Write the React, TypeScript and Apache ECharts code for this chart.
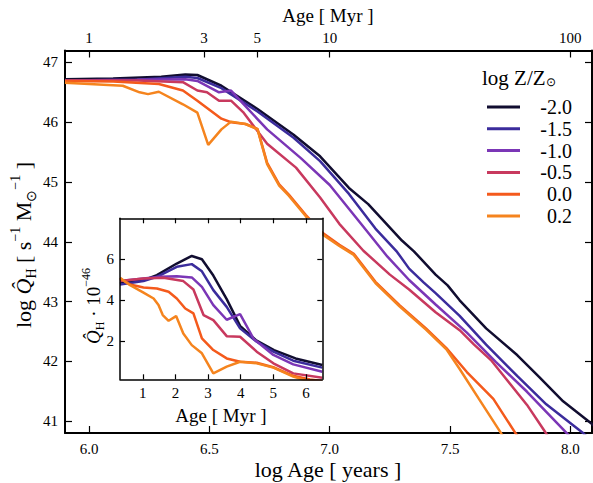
import React, { useEffect, useRef } from 'react';
import * as echarts from 'echarts';

// ---- legend / series names ----
const metallicities = ['-2.0', '-1.5', '-1.0', '-0.5', '0.0', '0.2'];
const lineColors = ['#110d30', '#3b2c9c', '#7b36b6', '#c8395e', '#f45a1c', '#f5841e'];

// ---- main panel: [log Age (yr), log Q_H] ----
const mainM20 = [[5.9, 46.72], [6.1, 46.73], [6.3, 46.76], [6.4, 46.8], [6.45, 46.79], [6.55, 46.61], [6.7, 46.22], [6.85, 45.79], [6.96, 45.43], [7.08, 44.9], [7.16, 44.63], [7.3, 44.02], [7.35, 43.84], [7.44, 43.45], [7.49, 43.27], [7.54, 43.02], [7.65, 42.55], [7.78, 42.1], [7.87, 41.74], [7.97, 41.33], [8.09, 40.95], [8.15, 40.72]];
const mainM15 = [[5.9, 46.7], [6.2, 46.71], [6.4, 46.76], [6.45, 46.74], [6.55, 46.57], [6.7, 46.18], [6.85, 45.74], [6.96, 45.35], [7.08, 44.8], [7.19, 44.22], [7.28, 43.83], [7.33, 43.55], [7.39, 43.32], [7.44, 43.14], [7.54, 42.76], [7.65, 42.28], [7.78, 41.75], [7.9, 41.28], [8.05, 40.81], [8.1, 40.62]];
const mainM10 = [[5.9, 46.7], [6.2, 46.71], [6.4, 46.72], [6.45, 46.69], [6.54, 46.5], [6.59, 46.53], [6.64, 46.31], [6.74, 45.88], [6.88, 45.4], [7.0, 44.95], [7.13, 44.3], [7.24, 43.75], [7.33, 43.36], [7.44, 42.95], [7.57, 42.48], [7.69, 41.99], [7.82, 41.49], [7.97, 40.86], [8.02, 40.65]];
const mainM05 = [[5.9, 46.7], [6.2, 46.7], [6.39, 46.67], [6.45, 46.53], [6.49, 46.5], [6.54, 46.36], [6.59, 46.36], [6.64, 46.17], [6.74, 45.64], [6.86, 45.24], [6.96, 44.74], [7.04, 44.3], [7.14, 43.85], [7.25, 43.45], [7.33, 43.2], [7.44, 42.82], [7.54, 42.52], [7.6, 42.28], [7.67, 42.02], [7.73, 41.72], [7.82, 41.27], [7.89, 40.85], [7.93, 40.6]];
const mainP00 = [[5.9, 46.69], [6.1, 46.68], [6.29, 46.64], [6.39, 46.53], [6.45, 46.36], [6.55, 46.06], [6.59, 46.0], [6.65, 45.97], [6.7, 45.89], [6.74, 45.32], [6.79, 44.96], [6.83, 44.79], [6.9, 44.45], [6.97, 44.15], [7.04, 43.95], [7.1, 43.8], [7.19, 43.33], [7.29, 42.94], [7.4, 42.55], [7.485, 42.22], [7.57, 41.82], [7.68, 41.37], [7.77, 40.81], [7.8, 40.65]];
const mainP02 = [[5.9, 46.66], [6.14, 46.61], [6.21, 46.5], [6.245, 46.47], [6.29, 46.51], [6.39, 46.3], [6.45, 46.16], [6.495, 45.62], [6.55, 45.88], [6.59, 46.01], [6.65, 45.97], [6.7, 45.88], [6.74, 45.3], [6.79, 44.94], [6.83, 44.77], [6.9, 44.43], [6.97, 44.12], [7.04, 43.93], [7.1, 43.78], [7.19, 43.31], [7.29, 42.92], [7.4, 42.53], [7.485, 42.2], [7.54, 41.87], [7.62, 41.37], [7.71, 40.81], [7.74, 40.6]];

// ---- inset panel: [Age (Myr), Q_H / 1e46] ----
const insetM20 = [[0.3, 4.81], [1.02, 4.98], [1.43, 5.22], [2.04, 5.79], [2.5, 6.16], [2.81, 6.0], [3.16, 5.2], [3.57, 4.05], [3.98, 2.74], [4.46, 2.05], [5.02, 1.56], [5.68, 1.15], [6.5, 0.83]];
const insetM15 = [[0.3, 4.76], [1.02, 4.93], [1.43, 5.14], [2.04, 5.63], [2.5, 5.76], [2.81, 5.41], [3.16, 4.49], [3.57, 3.67], [3.98, 2.62], [4.49, 1.97], [5.0, 1.48], [5.61, 1.04], [6.5, 0.7]];
const insetM10 = [[0.3, 4.93], [1.02, 5.06], [1.53, 5.14], [2.04, 5.17], [2.5, 5.11], [2.81, 4.65], [3.16, 3.76], [3.57, 3.04], [3.98, 3.32], [4.4, 2.1], [5.0, 1.32], [5.61, 0.86], [6.5, 0.5]];
const insetM05 = [[0.3, 4.93], [1.02, 5.06], [1.63, 5.09], [2.24, 4.93], [2.55, 4.52], [2.86, 3.27], [3.16, 3.02], [3.57, 2.24], [3.98, 2.21], [4.49, 1.48], [5.0, 0.91], [5.61, 0.42], [6.5, 0.21]];
const insetP00 = [[0.3, 5.06], [0.61, 4.76], [1.02, 4.62], [1.43, 4.57], [1.79, 4.41], [2.04, 4.08], [2.3, 3.59], [2.55, 3.35], [2.81, 2.13], [3.16, 1.56], [3.57, 1.15], [3.98, 0.99], [4.49, 0.94], [5.0, 0.72], [5.61, 0.3], [6.12, 0.12], [6.5, 0.05]];
const insetP02 = [[0.3, 5.09], [0.61, 4.73], [1.02, 4.37], [1.33, 4.08], [1.48, 3.76], [1.61, 3.27], [1.79, 2.99], [2.02, 3.22], [2.24, 2.37], [2.5, 1.8], [2.81, 1.4], [3.16, 0.42], [3.57, 0.75], [3.98, 0.99], [4.49, 0.91], [5.0, 0.7], [5.61, 0.26], [6.12, 0.02]];

// ---- ticks ----
const mainXTicks = [6.0, 6.5, 7.0, 7.5, 8.0];
const mainYTicks = [41, 42, 43, 44, 45, 46, 47];
const topTicksMyr = [1, 3, 5, 10, 100];
const insetXTicks = [1, 2, 3, 4, 5, 6];
const insetYTicks = [2, 4, 6];

const mainData = [mainM20, mainM15, mainM10, mainM05, mainP00, mainP02];
const insetData = [insetM20, insetM15, insetM10, insetM05, insetP00, insetP02];

const FONT = 'Liberation Serif';
const W = 593;
const H = 483;

function buildOption() {
  const topTickPos = topTicksMyr.map((m) => 6 + Math.log10(m));
  const tickStyle = { color: '#000', width: 1.2 };
  const label = (size: number) => ({ fontSize: size, fontFamily: FONT, color: '#000' });

  const xAxis = [
    {
      type: 'value', gridIndex: 0, position: 'bottom', min: 5.9, max: 8.09,
      axisLine: { onZero: false, lineStyle: { color: '#000', width: 2 } },
      axisTick: { inside: true, length: 7, lineStyle: tickStyle, customValues: mainXTicks },
      axisLabel: { ...label(15), margin: 8, customValues: mainXTicks, formatter: (v: number) => v.toFixed(1) },
      splitLine: { show: false },
    },
    {
      type: 'value', gridIndex: 0, position: 'top', min: 5.9, max: 8.09,
      axisLine: { onZero: false, lineStyle: { color: '#000', width: 2 } },
      axisTick: { inside: true, length: 7, lineStyle: tickStyle, customValues: topTickPos },
      axisLabel: { ...label(15), margin: 5, customValues: topTickPos, formatter: (v: number) => String(Math.round(Math.pow(10, v - 6))) },
      splitLine: { show: false },
    },
    {
      type: 'value', gridIndex: 1, position: 'bottom', min: 0.3, max: 6.5, z: 8,
      axisLine: { onZero: false, lineStyle: { color: '#000', width: 1.5 } },
      axisTick: { inside: true, length: 5, lineStyle: tickStyle, customValues: insetXTicks },
      axisLabel: { ...label(15), margin: 6, customValues: insetXTicks },
      splitLine: { show: false },
    },
    {
      type: 'value', gridIndex: 1, position: 'top', min: 0.3, max: 6.5, z: 8,
      axisLine: { onZero: false, lineStyle: { color: '#000', width: 1.5 } },
      axisTick: { inside: true, length: 5, lineStyle: tickStyle, customValues: insetXTicks },
      axisLabel: { show: false },
      splitLine: { show: false },
    },
  ];
  const yAxis = [
    {
      type: 'value', gridIndex: 0, position: 'left', min: 40.8, max: 47.2,
      axisLine: { onZero: false, show: true, lineStyle: { color: '#000', width: 2 } },
      axisTick: { show: true, inside: true, length: 7, lineStyle: tickStyle, customValues: mainYTicks },
      axisLabel: { ...label(15), margin: 7, customValues: mainYTicks },
      splitLine: { show: false },
    },
    {
      type: 'value', gridIndex: 0, position: 'right', min: 40.8, max: 47.2,
      axisLine: { onZero: false, show: true, lineStyle: { color: '#000', width: 2 } },
      axisTick: { show: true, inside: true, length: 7, lineStyle: tickStyle, customValues: mainYTicks },
      axisLabel: { show: false },
      splitLine: { show: false },
    },
    {
      type: 'value', gridIndex: 1, position: 'left', min: 0.13, max: 8, z: 8,
      axisLine: { onZero: false, show: true, lineStyle: { color: '#000', width: 1.5 } },
      axisTick: { show: true, inside: true, length: 5, lineStyle: tickStyle, customValues: insetYTicks },
      axisLabel: { ...label(15), margin: 6, customValues: insetYTicks },
      splitLine: { show: false },
    },
    {
      type: 'value', gridIndex: 1, position: 'right', min: 0.13, max: 8, z: 8,
      axisLine: { onZero: false, show: true, lineStyle: { color: '#000', width: 1.5 } },
      axisTick: { show: true, inside: true, length: 5, lineStyle: tickStyle, customValues: insetYTicks },
      axisLabel: { show: false },
      splitLine: { show: false },
    },
  ];

  const series: any[] = [];
  metallicities.forEach((name, i) => {
    series.push({
      type: 'line', name, data: mainData[i], xAxisIndex: 0, yAxisIndex: 0,
      showSymbol: false, symbol: 'none', clip: true, z: 2,
      lineStyle: { color: lineColors[i], width: 2.5 }, itemStyle: { color: lineColors[i] },
    });
  });
  metallicities.forEach((name, i) => {
    series.push({
      type: 'line', name, data: insetData[i], xAxisIndex: 2, yAxisIndex: 2,
      showSymbol: false, symbol: 'none', clip: true, z: 7,
      lineStyle: { color: lineColors[i], width: 2.5 }, itemStyle: { color: lineColors[i] },
    });
  });

  const sub = (size: number) => ({ fontSize: size, fontFamily: FONT, color: '#000', verticalAlign: 'bottom', lineHeight: size });
  const sup = (size: number) => ({ fontSize: size, fontFamily: FONT, color: '#000', verticalAlign: 'top', lineHeight: size });
  const norm = (size: number, lh: number) => ({ fontSize: size, fontFamily: FONT, color: '#000', lineHeight: lh });
  const ital = (size: number, lh: number) => ({ fontSize: size, fontFamily: FONT, color: '#000', fontStyle: 'italic', lineHeight: lh });

  const txt = (x: number, y: number, text: string, rich: any, rotation = 0) => ({
    type: 'text', x, y, rotation, z: 20,
    style: { text, rich, align: 'center', verticalAlign: 'middle', textAlign: 'center', textVerticalAlign: 'middle', fill: '#000', fontFamily: FONT, fontSize: 20 },
  });

  return {
    animation: false,
    backgroundColor: '#fff',
    textStyle: { fontFamily: FONT },
    grid: [
      { left: 65, top: 50.5, width: 527, height: 382.5, show: false },
      { left: 120, top: 218.3, width: 202.3, height: 161, show: true, backgroundColor: '#fff', borderWidth: 0, z: 5 },
    ],
    xAxis,
    yAxis,
    legend: {
      data: metallicities, orient: 'vertical', left: 482, top: 92,
      itemWidth: 33, itemHeight: 3, icon: 'rect', itemGap: 1.8, selectedMode: false,
      textStyle: { fontSize: 20, fontFamily: FONT, color: '#000', lineHeight: 20, rich: { a: { width: 47, align: 'right', fontSize: 20, fontFamily: FONT, height: 20, lineHeight: 20 } } },
      formatter: (n: string) => `{a|${n}}`,
    },
    graphic: [
      txt(328, 469, '{n|log Age [ years ]}', { n: norm(22, 26) }),
      txt(328, 15, '{n|Age [ Myr ]}', { n: norm(19, 22) }),
      txt(23, 245, '{n|log }{i|Q̂}{s|H}{n| [ s}{p|−1}{n| M}{s|⊙}{p|−1}{n| ]}', { n: norm(22, 30), i: ital(22, 30), s: sub(14), p: sup(14) }, Math.PI / 2),
      txt(221, 415, '{n|Age [ Myr ]}', { n: norm(19, 24) }),
      txt(93, 306, '{i|Q̂}{s|H}{n| · 10}{p|−46}', { n: norm(19, 26), i: ital(19, 26), s: sub(12), p: sup(12) }, Math.PI / 2),
      {
        type: 'text', x: 482, y: 78, z: 20,
        style: { text: '{n|log Z/Z}{s|⊙}', rich: { n: norm(21, 20), s: sub(12) }, align: 'left', verticalAlign: 'middle', textAlign: 'left', textVerticalAlign: 'middle', fill: '#000', fontFamily: FONT },
      },
    ],
    series,
  };
}

export default function App() {
  const ref = useRef<HTMLDivElement>(null);
  useEffect(() => {
    if (!ref.current) return;
    const chart = echarts.init(ref.current, null, { renderer: 'svg' });
    chart.setOption(buildOption() as any);
    return () => chart.dispose();
  }, []);
  return <div ref={ref} style={{ position: 'absolute', left: 0, top: 0, width: W, height: H, background: '#fff' }} />;
}
